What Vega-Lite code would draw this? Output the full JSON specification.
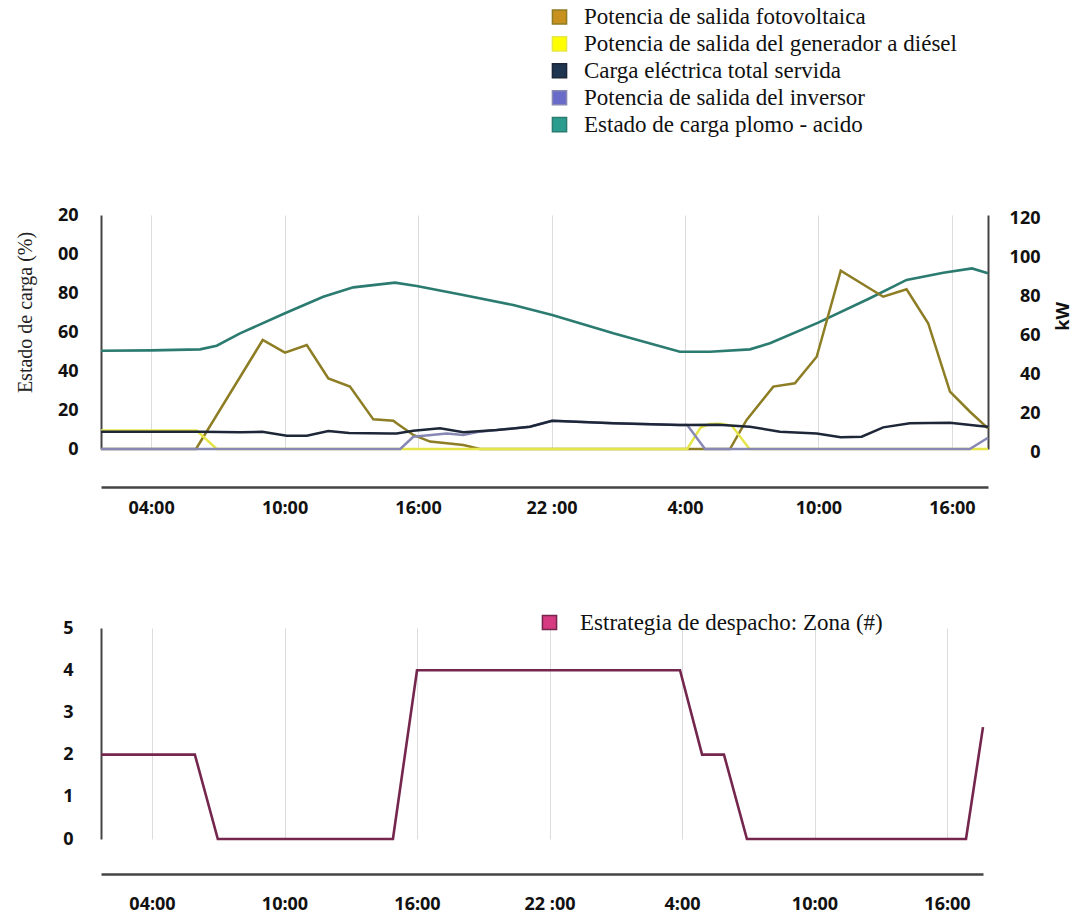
{
  "$schema": "https://vega.github.io/schema/vega-lite/v6.json",
  "background": "white",
  "padding": {"left": 15, "top": 5, "right": 5, "bottom": 5},
  "bounds": "flush",
  "spacing": 179,
  "config": {"view": {"stroke": null}},
  "resolve": {"scale": {"color": "independent", "x": "independent", "y": "independent"}, "legend": {"color": "independent"}},
  "vconcat": [
    {
      "width": 887,
      "height": 234,
      "data": {"values": [
        {"h": 1.75, "v": 50.4, "s": "soc"}, {"h": 4, "v": 50.6, "s": "soc"}, {"h": 6.2, "v": 51.1, "s": "soc"}, {"h": 6.95, "v": 53, "s": "soc"}, {"h": 8.0, "v": 59.3, "s": "soc"}, {"h": 10.02, "v": 69.6, "s": "soc"}, {"h": 11.74, "v": 78.1, "s": "soc"}, {"h": 13.09, "v": 82.9, "s": "soc"}, {"h": 14.96, "v": 85.3, "s": "soc"}, {"h": 15.94, "v": 83.6, "s": "soc"}, {"h": 18.03, "v": 79, "s": "soc"}, {"h": 20.28, "v": 73.8, "s": "soc"}, {"h": 22.03, "v": 68.7, "s": "soc"}, {"h": 24.78, "v": 59.3, "s": "soc"}, {"h": 27.77, "v": 49.9, "s": "soc"}, {"h": 29.12, "v": 49.9, "s": "soc"}, {"h": 30.92, "v": 51.1, "s": "soc"}, {"h": 31.82, "v": 54.2, "s": "soc"}, {"h": 33.99, "v": 64.8, "s": "soc"}, {"h": 36.31, "v": 77.3, "s": "soc"}, {"h": 37.96, "v": 86.7, "s": "soc"}, {"h": 39.61, "v": 90.4, "s": "soc"}, {"h": 40.9, "v": 92.6, "s": "soc"}, {"h": 41.62, "v": 90.1, "s": "soc"},
        {"h": 1.75, "v": 0, "s": "pv"}, {"h": 6.02, "v": 0, "s": "pv"}, {"h": 9.02, "v": 55.9, "s": "pv"}, {"h": 10.02, "v": 49.4, "s": "pv"}, {"h": 11.0, "v": 53.3, "s": "pv"}, {"h": 11.97, "v": 36.2, "s": "pv"}, {"h": 12.94, "v": 32, "s": "pv"}, {"h": 13.99, "v": 15.2, "s": "pv"}, {"h": 14.89, "v": 14.5, "s": "pv"}, {"h": 15.04, "v": 13.2, "s": "pv"}, {"h": 15.79, "v": 7.2, "s": "pv"}, {"h": 16.54, "v": 3.8, "s": "pv"}, {"h": 18.04, "v": 2, "s": "pv"}, {"h": 18.78, "v": 0, "s": "pv"}, {"h": 30.02, "v": 0, "s": "pv"}, {"h": 30.77, "v": 14.9, "s": "pv"}, {"h": 31.97, "v": 32, "s": "pv"}, {"h": 32.94, "v": 33.7, "s": "pv"}, {"h": 33.92, "v": 47.3, "s": "pv"}, {"h": 35.0, "v": 91.4, "s": "pv"}, {"h": 36.91, "v": 78.1, "s": "pv"}, {"h": 37.96, "v": 81.9, "s": "pv"}, {"h": 38.93, "v": 64.5, "s": "pv"}, {"h": 39.91, "v": 29.4, "s": "pv"}, {"h": 40.81, "v": 19.1, "s": "pv"}, {"h": 41.62, "v": 10.6, "s": "pv"},
        {"h": 1.75, "v": 9.5, "s": "dg"}, {"h": 6.05, "v": 9.5, "s": "dg"}, {"h": 6.95, "v": 0, "s": "dg"}, {"h": 28.1, "v": 0, "s": "dg"}, {"h": 28.7, "v": 11, "s": "dg"}, {"h": 29.1, "v": 12.8, "s": "dg"}, {"h": 29.6, "v": 13, "s": "dg"}, {"h": 30.1, "v": 12, "s": "dg"}, {"h": 30.9, "v": 0, "s": "dg"}, {"h": 41.62, "v": 0, "s": "dg"},
        {"h": 1.75, "v": 0, "s": "inv"}, {"h": 15.2, "v": 0, "s": "inv"}, {"h": 15.79, "v": 6.3, "s": "inv"}, {"h": 17.29, "v": 8, "s": "inv"}, {"h": 18.04, "v": 7.2, "s": "inv"}, {"h": 18.78, "v": 8.9, "s": "inv"}, {"h": 19.54, "v": 9.7, "s": "inv"}, {"h": 21.03, "v": 11.4, "s": "inv"}, {"h": 22.03, "v": 14.5, "s": "inv"}, {"h": 24.78, "v": 13.2, "s": "inv"}, {"h": 27.77, "v": 12.3, "s": "inv"}, {"h": 28.1, "v": 12.3, "s": "inv"}, {"h": 28.9, "v": 0, "s": "inv"}, {"h": 40.8, "v": 0, "s": "inv"}, {"h": 41.62, "v": 5.8, "s": "inv"},
        {"h": 1.75, "v": 8.8, "s": "ld"}, {"h": 6.2, "v": 8.8, "s": "ld"}, {"h": 8.0, "v": 8.6, "s": "ld"}, {"h": 9.0, "v": 8.8, "s": "ld"}, {"h": 10.1, "v": 6.8, "s": "ld"}, {"h": 11.0, "v": 6.8, "s": "ld"}, {"h": 11.97, "v": 9.2, "s": "ld"}, {"h": 12.9, "v": 8.2, "s": "ld"}, {"h": 14.74, "v": 8, "s": "ld"}, {"h": 15.04, "v": 8, "s": "ld"}, {"h": 15.79, "v": 9.4, "s": "ld"}, {"h": 16.99, "v": 10.6, "s": "ld"}, {"h": 18.04, "v": 8.6, "s": "ld"}, {"h": 19.54, "v": 9.7, "s": "ld"}, {"h": 21.03, "v": 11.4, "s": "ld"}, {"h": 22.03, "v": 14.5, "s": "ld"}, {"h": 24.78, "v": 13.2, "s": "ld"}, {"h": 27.77, "v": 12.3, "s": "ld"}, {"h": 29.5, "v": 12.4, "s": "ld"}, {"h": 30.92, "v": 11.4, "s": "ld"}, {"h": 32.27, "v": 8.9, "s": "ld"}, {"h": 33.92, "v": 8, "s": "ld"}, {"h": 35.0, "v": 6, "s": "ld"}, {"h": 35.94, "v": 6.3, "s": "ld"}, {"h": 36.91, "v": 11.1, "s": "ld"}, {"h": 38.11, "v": 13.2, "s": "ld"}, {"h": 39.91, "v": 13.5, "s": "ld"}, {"h": 41.25, "v": 11.8, "s": "ld"}, {"h": 41.62, "v": 11.4, "s": "ld"}
      ]},
      "encoding": {
        "x": {"field": "h", "type": "quantitative", "scale": {"domain": [1.75, 41.62], "nice": false, "zero": false},
          "axis": {"values": [4, 10, 16, 22, 28, 34, 40], "labelExpr": "datum.value==4?'04:00':datum.value==10?'10:00':datum.value==16?'16:00':datum.value==22?'22 :00':datum.value==28?'4:00':datum.value==34?'10:00':'16:00'", "grid": true, "gridColor": "#dcdcdc", "gridWidth": 1, "domain": true, "domainColor": "#444444", "domainWidth": 2.5, "ticks": false, "offset": 38, "labelPadding": 12, "labelFont": "Open Sans", "labelFontWeight": "bold", "labelFontSize": 18, "labelColor": "#111111", "title": null}},
        "color": {"field": "s", "type": "nominal",
          "scale": {"domain": ["pv", "dg", "ld", "inv", "soc"], "range": ["#8d7d24", "#e6e64a", "#1d2738", "#8888b4", "#2b7b70"]},
          "legend": {"orient": "none", "legendX": 447, "legendY": -209.5, "title": null, "padding": 0, "symbolType": "square", "symbolSize": 200, "symbolStrokeColor": "#222222", "symbolStrokeWidth": 1.5, "labelFont": "Liberation Serif", "labelFontSize": 23, "labelColor": "#111111", "labelLimit": 0, "rowPadding": 2.9, "labelOffset": 13, "direction": "vertical",
            "labelExpr": "datum.value=='pv'?'Potencia de salida fotovoltaica':datum.value=='dg'?'Potencia de salida del generador a diésel':datum.value=='ld'?'Carga eléctrica total servida':datum.value=='inv'?'Potencia de salida del inversor':'Estado de carga plomo - acido'",
            "encode": {"symbols": {"update": {"fill": {"signal": "datum.value=='pv'?'#c8901c':datum.value=='dg'?'#ffff00':datum.value=='ld'?'#1f3550':datum.value=='inv'?'#6a6ac8':'#2a9d8f'"}, "stroke": {"value": "#222222"}, "strokeWidth": {"value": 1.5}, "opacity": {"value": 1}}}}}
        }
      },
      "layer": [
        {
          "transform": [{"filter": "datum.s==='soc'"}],
          "mark": {"type": "line", "strokeWidth": 2.6},
          "encoding": {
            "y": {"field": "v", "type": "quantitative", "scale": {"domain": [0, 120], "nice": false},
              "axis": {"orient": "left", "values": [0, 20, 40, 60, 80, 100, 120], "labelExpr": "datum.value==120?'20':datum.value==100?'00':datum.label", "grid": false, "ticks": false, "domain": true, "domainColor": "#444444", "domainWidth": 2, "labelPadding": 23, "labelFont": "Open Sans", "labelFontWeight": "bold", "labelFontSize": 18, "labelColor": "#111111",
                "title": "Estado de carga (%)", "titleFont": "Liberation Serif", "titleFontWeight": "normal", "titleFontSize": 20, "titleColor": "#222222", "titleAngle": 270, "titleX": -76, "titleY": 97, "titleAlign": "center", "titleBaseline": "middle"}}
          }
        },
        {
          "transform": [{"filter": "datum.s!=='soc'"}],
          "mark": {"type": "line", "strokeWidth": 2.5},
          "encoding": {
            "y": {"field": "v", "type": "quantitative", "scale": {"domain": [0, 120], "nice": false},
              "axis": {"orient": "right", "values": [0, 20, 40, 60, 80, 100, 120], "grid": false, "ticks": false, "domain": true, "domainColor": "#444444", "domainWidth": 2, "labelAlign": "right", "labelPadding": 52, "labelOffset": 3, "labelFont": "Open Sans", "labelFontWeight": "bold", "labelFontSize": 18, "labelColor": "#111111",
                "title": "kW", "titleFont": "Open Sans", "titleFontWeight": "bold", "titleFontSize": 18, "titleColor": "#111111", "titleAngle": 270, "titleX": 75, "titleY": 101, "titleAlign": "center", "titleBaseline": "middle"}}
          }
        }
      ],
      "resolve": {"axis": {"y": "independent"}}
    },
    {
      "width": 882,
      "height": 211,
      "data": {"values": [
        {"h": 1.69, "z": 2, "s": "zona"}, {"h": 5.94, "z": 2, "s": "zona"}, {"h": 6.98, "z": 0, "s": "zona"}, {"h": 14.91, "z": 0, "s": "zona"}, {"h": 16.0, "z": 4, "s": "zona"}, {"h": 27.91, "z": 4, "s": "zona"}, {"h": 28.91, "z": 2, "s": "zona"}, {"h": 29.9, "z": 2, "s": "zona"}, {"h": 30.94, "z": 0, "s": "zona"}, {"h": 40.86, "z": 0, "s": "zona"}, {"h": 41.63, "z": 2.65, "s": "zona"}
      ]},
      "mark": {"type": "line", "strokeWidth": 2.6},
      "encoding": {
        "x": {"field": "h", "type": "quantitative", "scale": {"domain": [1.69, 41.63], "nice": false, "zero": false},
          "axis": {"values": [4, 10, 16, 22, 28, 34, 40], "labelExpr": "datum.value==4?'04:00':datum.value==10?'10:00':datum.value==16?'16:00':datum.value==22?'22 :00':datum.value==28?'4:00':datum.value==34?'10:00':'16:00'", "grid": true, "gridColor": "#dcdcdc", "gridWidth": 1, "domain": true, "domainColor": "#444444", "domainWidth": 2.5, "ticks": false, "offset": 35, "labelPadding": 21, "labelFont": "Open Sans", "labelFontWeight": "bold", "labelFontSize": 18, "labelColor": "#111111", "title": null}},
        "y": {"field": "z", "type": "quantitative", "scale": {"domain": [0, 5], "nice": false},
          "axis": {"values": [0, 1, 2, 3, 4, 5], "grid": false, "ticks": false, "domain": true, "domainColor": "#444444", "domainWidth": 2, "labelPadding": 28, "labelFont": "Open Sans", "labelFontWeight": "bold", "labelFontSize": 18, "labelColor": "#111111", "title": null}},
        "color": {"field": "s", "type": "nominal",
          "scale": {"domain": ["zona"], "range": ["#74264c"]},
          "legend": {"orient": "none", "legendX": 437, "legendY": -17, "title": null, "padding": 0, "symbolType": "square", "symbolSize": 200, "labelFont": "Liberation Serif", "labelFontSize": 23, "labelColor": "#111111", "labelLimit": 0, "labelOffset": 19,
            "labelExpr": "'Estrategia de despacho: Zona (#)'",
            "encode": {"symbols": {"update": {"fill": {"value": "#d63a80"}, "stroke": {"value": "#222222"}, "strokeWidth": {"value": 1.5}, "opacity": {"value": 1}}}}}
        }
      }
    }
  ]
}
